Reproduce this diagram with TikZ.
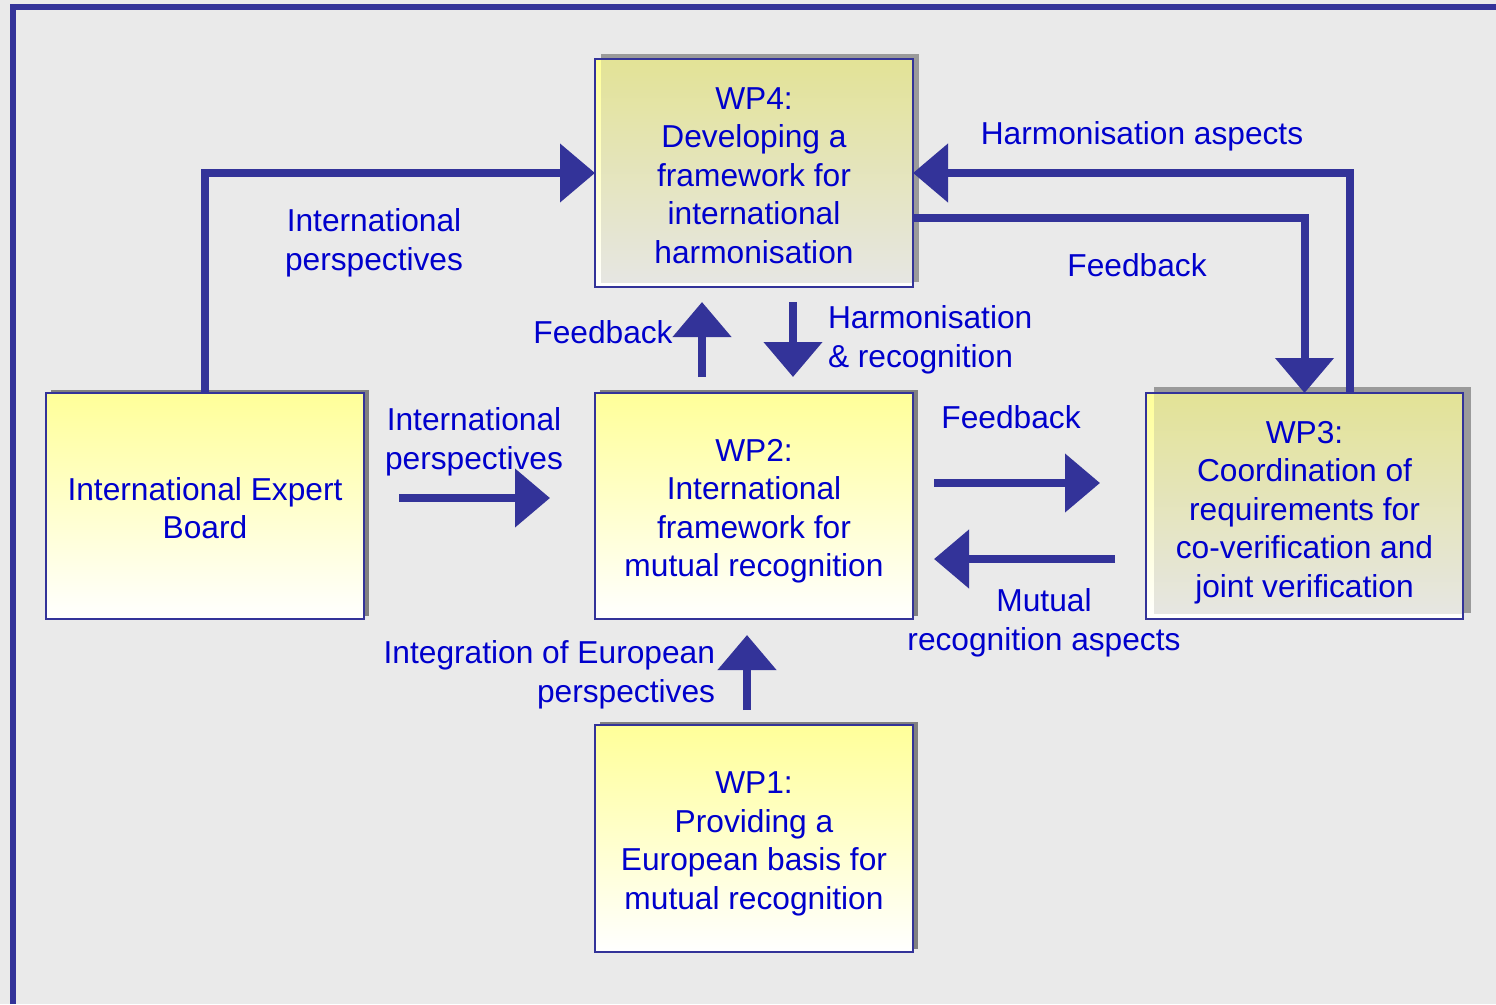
\documentclass[tikz,border=0pt]{standalone}
\usepackage{fontspec}
\setmainfont{Liberation Sans}
\usetikzlibrary{arrows.meta,shadows}
\definecolor{bg}{HTML}{EAEAEA}
\definecolor{lineblue}{HTML}{333399}
\definecolor{txtblue}{HTML}{0000CC}
\definecolor{ylw}{HTML}{FFFF99}
\definecolor{khaki}{HTML}{E3E396}
\definecolor{palegray}{HTML}{E6E6E4}
\definecolor{shadowA}{HTML}{808080}
\definecolor{shadowB}{HTML}{9A9A9A}
\newcommand{\tsr}[1]{\rule{0pt}{#1pt}}
\begin{document}
\begin{tikzpicture}[x=1pt,y=-1pt,
  every node/.style={font=\fontsize{31.7pt}{38.5pt}\selectfont, text=txtblue, inner sep=0pt, outer sep=0pt},
  lbl/.style={align=center},
  boxbase/.style={draw=lineblue, line width=1.8pt, top color=ylw, bottom color=white, align=center, minimum width=318pt, minimum height=226pt},
  ybox/.style={boxbase, general shadow={fill=shadowA, shadow xshift=5pt, shadow yshift=3pt}},
  kbox/.style 2 args={boxbase, general shadow={fill=shadowB, shadow xshift=#1pt, shadow yshift=#2pt},
    path picture={\shade[top color=khaki, bottom color=palegray]
      ([xshift=#1pt,yshift=-1pt]path picture bounding box.north west) rectangle
      ([xshift=-1pt,yshift=#2pt]path picture bounding box.south east);}},
  arr/.style={line width=8pt, draw=lineblue, -{Triangle[length=35pt,width=57pt]}}
]
\useasboundingbox (0,0) rectangle (1496,1004);
\fill[bg] (0,0) rectangle (1496,1004);
% frame lines
\draw[lineblue, line width=5.5pt] (13,1004) -- (13,7) -- (1496,7);

% boxes
\node[ybox] (ieb) at (205,506) {\tsr{27}International Expert\\Board};
\node[ybox] (wp2) at (754,506) {\tsr{32.7}WP2:\\International\\framework for\\mutual recognition};
\node[kbox={8}{6}, minimum width=317pt] (wp3) at (1304.5,506) {\tsr{34.7}WP3:\\Coordination of\\requirements for\\co-verification and\\joint verification};
\node[kbox={6}{5}, minimum height=228pt] (wp4) at (754,173) {\tsr{26.7}WP4:\\Developing a\\framework for\\international\\harmonisation};
\node[ybox, minimum height=227pt] (wp1) at (754,838.5) {\tsr{32.7}WP1:\\Providing a\\European basis for\\mutual recognition};

% connectors between boxes
\draw[arr] (ieb.north) |- (wp4.west);
\draw[arr] ([xshift=45.5pt]wp3.north) |- (wp4.east);
\draw[arr] ([yshift=-45pt]wp4.east) -| (wp3.north);

% free arrows
\coordinate (fbA) at (702,377); \coordinate (fbB) at (702,302);
\coordinate (hrA) at (793,302); \coordinate (hrB) at (793,377);
\coordinate (ipA) at (399,498); \coordinate (ipB) at (550,498);
\coordinate (frA) at (934,483); \coordinate (frB) at (1100,483);
\coordinate (mrA) at (1115,559); \coordinate (mrB) at (934,559);
\coordinate (ieA) at (747,710); \coordinate (ieB) at (747,635);
\draw[arr] (fbA) -- (fbB);
\draw[arr] (hrA) -- (hrB);
\draw[arr] (ipA) -- (ipB);
\draw[arr] (frA) -- (frB);
\draw[arr] (mrA) -- (mrB);
\draw[arr] (ieA) -- (ieB);

% labels
\node[lbl] (lIP1) at (374,243) {International\\perspectives};
\node (lHA) at (1142,136) {Harmonisation aspects};
\node (lFB1) at (1137,265) {Feedback};
\node (lFB2) at (603,332) {Feedback};
\node[align=left, anchor=west] (lHR) at (828,340) {Harmonisation\\\& recognition};
\node[lbl] (lIP2) at (474,442) {International\\perspectives};
\node (lFB3) at (1011,417) {Feedback};
\node[lbl] (lMR) at (1044,623) {Mutual\\recognition aspects};
\node[align=right, anchor=east] (lIE) at (715,675) {Integration of European\\perspectives};
\end{tikzpicture}
\end{document}
